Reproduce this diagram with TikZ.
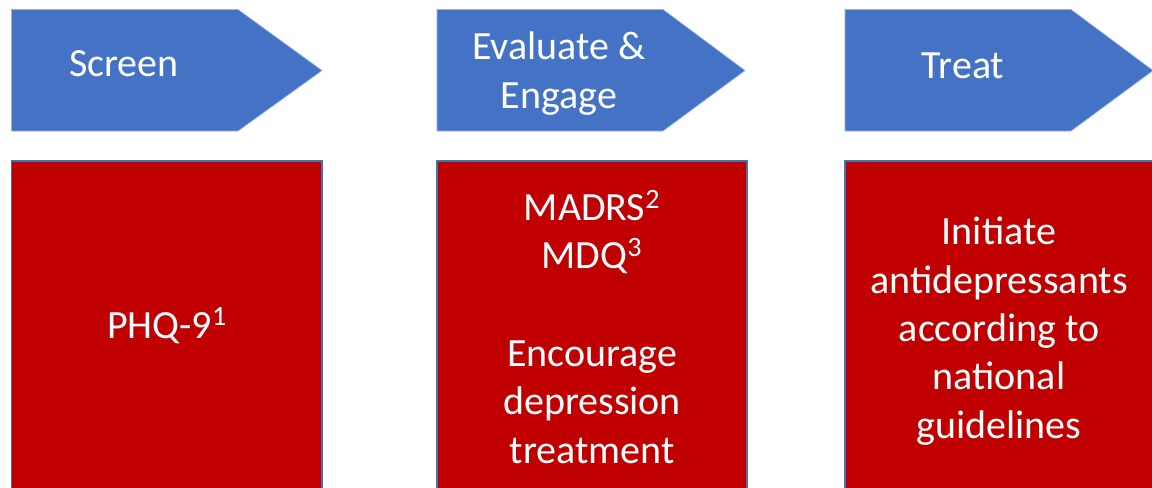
\documentclass[tikz,border=0pt]{standalone}
\usepackage{fontspec}
\setmainfont{Carlito}
\definecolor{stageblue}{HTML}{4472C4}
\definecolor{panelred}{HTML}{C00000}
\definecolor{paneledge}{HTML}{4A6FB0}

\begin{document}
\begin{tikzpicture}[x=0.75pt, y=-0.75pt,
    every node/.append style={font=\fontsize{30}{36.2}\selectfont, text=white, align=center, inner sep=0pt}]
  \tikzstyle{stage} = [fill=stageblue, draw=stageblue!55!white, line width=0.5pt]
  \tikzstyle{panel} = [fill=panelred, draw=paneledge, line width=0.8pt]
  \useasboundingbox (0,0) rectangle (1152,487);
  % pentagon arrows
  \foreach \l/\r/\t in {11.5/238/322, 437/663/745, 845/1071/1153}
    \path[stage] (\l,9.5) -- (\r,9.5) -- (\t,70.5) -- (\r,131) -- (\l,131) -- cycle;
  % red panels
  \foreach \l/\r in {11.5/322, 437/747, 845/1153}
    \path[panel] (\l,161) rectangle (\r,500);
  % stage labels (base = last line)
  \node (screen) [anchor=base] at (124,76) {Screen};
  \node (evaluate) [anchor=base] at (559,108) {Evaluate \&\\Engage};
  \node (treat) [anchor=base] at (963,78) {Treat};
  % panel texts
  \node (phq) [anchor=base] at (167,338) {PHQ-9\textsuperscript{1}};
  \node (madrs) [anchor=base] at (592,463) {MADRS\textsuperscript{2}\\MDQ\textsuperscript{3}\\[37pt]Encourage\\depression\\treatment};
  \node (initiate) [anchor=base] at (999,438) {Initiate\\antidepressants\\according to\\national\\guidelines};
\end{tikzpicture}
\end{document}
